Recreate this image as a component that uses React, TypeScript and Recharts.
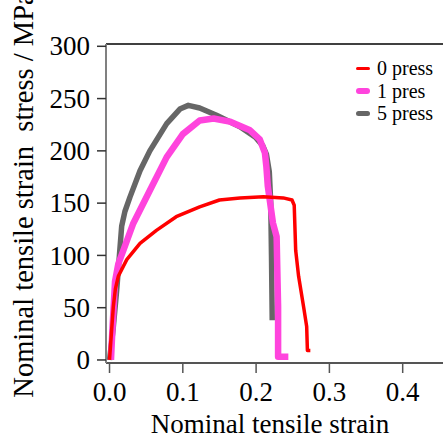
import { LineChart, Line, XAxis, YAxis, ReferenceLine } from "recharts";

const FONT = '"Liberation Serif", "Times New Roman", Times, serif';

// 0 press
const RED_STRAIN = [0, 0.0025, 0.0052, 0.008, 0.012, 0.0235, 0.0416, 0.064, 0.091, 0.123, 0.15, 0.178, 0.21, 0.237, 0.249, 0.252, 0.254, 0.258, 0.265, 0.269, 0.27, 0.274];
const RED_STRESS = [0, 25, 51, 68, 80, 96, 111.5, 124, 137, 146.5, 153, 155, 156, 155, 153, 148, 105, 80, 50, 32, 9, 9];

// 1 pres
const MAG_STRAIN = [0.002, 0.004, 0.006, 0.0075, 0.012, 0.019, 0.032, 0.055, 0.078, 0.1, 0.123, 0.142, 0.164, 0.191, 0.205, 0.212, 0.214, 0.216, 0.223, 0.228, 0.23, 0.23, 0.244];
const MAG_STRESS = [0, 30, 55, 75, 92, 105, 130, 162, 194, 216, 229, 231, 228, 220, 211, 198, 185, 166, 131, 118, 51, 3, 3];

// 5 press
const GRAY_STRAIN = [0, 0.005, 0.0098, 0.0135, 0.0166, 0.021, 0.028, 0.0416, 0.055, 0.078, 0.096, 0.1075, 0.123, 0.146, 0.178, 0.199, 0.209, 0.214, 0.218, 0.22, 0.221, 0.222];
const GRAY_STRESS = [0, 30, 67, 100, 128, 142, 156, 181, 200, 226, 240, 243.5, 241, 234, 223, 213, 205, 197, 180, 150, 100, 38];

const X_TICKS = [0, 0.1, 0.2, 0.3, 0.4];
const Y_TICKS = [0, 50, 100, 150, 200, 250, 300];

const toPoints = (xs: number[], ys: number[]) => xs.map((x, i) => ({ x, y: ys[i] }));

const SERIES = [
  { name: "0 press", color: "#ff0000", width: 3.5 },
  { name: "1 pres", color: "#ff44dd", width: 6.5 },
  { name: "5 press", color: "#666666", width: 5.5 },
];

function XTick({ x, y, payload }: any) {
  return (
    <text x={x} y={y} dy="0.71em" textAnchor="middle" fontSize={27} fontFamily={FONT} fill="#000">
      {Number(payload.value).toFixed(1)}
    </text>
  );
}

function YTick({ x, y, payload }: any) {
  return (
    <text x={x} y={y} dy="0.34em" textAnchor="end" fontSize={27} fontFamily={FONT} fill="#000">
      {payload.value}
    </text>
  );
}

function LegendBox() {
  return (
    <div
      style={{
        position: "absolute",
        top: 57,
        left: 356,
        fontFamily: FONT,
        fontSize: 20,
        lineHeight: "22.5px",
        color: "#000",
        whiteSpace: "nowrap",
      }}
    >
      {SERIES.map((s) => (
        <div key={s.name} style={{ display: "flex", alignItems: "center" }}>
          <span
            style={{
              display: "inline-block",
              width: 14,
              height: s.width,
              borderRadius: s.width / 2,
              background: s.color,
              marginRight: 7,
            }}
          />
          {s.name}
        </div>
      ))}
    </div>
  );
}

export default function App() {
  return (
    <div style={{ position: "absolute", left: 0, top: 0, width: 443, height: 439, fontFamily: FONT, overflow: "hidden" }}>
      <LineChart width={443} height={439} margin={{ top: 44, right: 0, bottom: 0, left: 0 }}>
        <XAxis
          type="number"
          dataKey="x"
          domain={[-0.0048, 0.455]}
          allowDataOverflow
          ticks={X_TICKS}
          height={76}
          axisLine={{ stroke: "#555", strokeWidth: 2 }}
          tickLine={{ stroke: "#555", strokeWidth: 1.5 }}
          tickSize={10}
          tickMargin={9}
          tick={<XTick />}
          label={{
            content: () => (
              <text x={270} y={433} textAnchor="middle" fontSize={27} fontFamily={FONT} fill="#000">
                Nominal tensile strain
              </text>
            ),
          }}
        />
        <YAxis
          type="number"
          dataKey="y"
          domain={[-2.9, 302.2]}
          allowDataOverflow
          ticks={Y_TICKS}
          width={106}
          axisLine={{ stroke: "#808080", strokeWidth: 2 }}
          tickLine={{ stroke: "#333", strokeWidth: 1.5 }}
          tickSize={9}
          tickMargin={7}
          tick={<YTick />}
          label={{
            content: () => (
              <text
                x={33}
                y={195}
                transform="rotate(-90, 33, 195)"
                textAnchor="middle"
                fontSize={28.5}
                fontFamily={FONT}
                fill="#000"
                style={{ whiteSpace: "pre" }}
              >
                Nominal tensile strain  stress / MPa
              </text>
            ),
          }}
        />
        <ReferenceLine y={302.2} stroke="#000" strokeWidth={1.5} ifOverflow="extendDomain" />
        <Line data={toPoints(GRAY_STRAIN, GRAY_STRESS)} dataKey="y" name="5 press" stroke="#666666" strokeWidth={5.5} dot={false} isAnimationActive={false} strokeLinejoin="round" />
        <Line data={toPoints(MAG_STRAIN, MAG_STRESS)} dataKey="y" name="1 pres" stroke="#ff44dd" strokeWidth={6.5} dot={false} isAnimationActive={false} strokeLinejoin="round" />
        <Line data={toPoints(RED_STRAIN, RED_STRESS)} dataKey="y" name="0 press" stroke="#ff0000" strokeWidth={3.5} dot={false} isAnimationActive={false} strokeLinejoin="round" />
      </LineChart>
      <LegendBox />
    </div>
  );
}
